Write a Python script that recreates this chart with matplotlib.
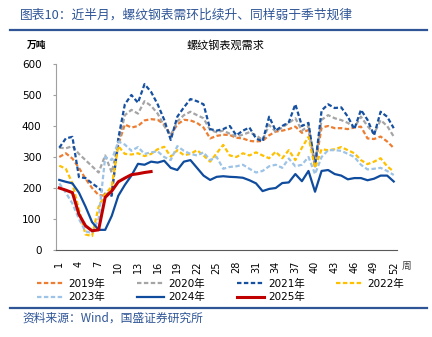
import numpy as np
import matplotlib
matplotlib.use("Agg")
import matplotlib.pyplot as plt
from matplotlib.lines import Line2D

plt.rcParams["font.family"] = ["DejaVu Sans", "Noto Sans CJK SC"]

# 周度螺纹钢表观需求（万吨），读图估计
weeks = np.arange(1, 53)
y2019 = [300, 312, 295, 265, 230, 200, 177, 175, 195, 340, 405, 395, 400, 418, 422, 420, 405, 370,
         405, 420, 418, 410, 395, 360, 368, 372, 371, 362, 360, 352, 350, 352, 370, 382, 385, 390,
         398, 378, 387, 270, 395, 400, 393, 393, 390, 395, 398, 360, 358, 366, 350, 329]
y2020 = [330, 328, 335, 310, 290, 270, 250, 305, 250, 345, 435, 452, 440, 480, 465, 440, 400, 370,
         415, 435, 446, 435, 425, 387, 380, 385, 375, 366, 372, 380, 370, 355, 403, 382, 395, 410,
         425, 385, 400, 280, 420, 435, 425, 419, 410, 395, 430, 400, 375, 419, 400, 366]
y2021 = [330, 360, 365, 235, 232, 215, 200, 180, 175, 360, 470, 500, 475, 535, 510, 470, 420, 355,
         430, 460, 487, 480, 470, 390, 385, 390, 400, 370, 385, 395, 360, 350, 430, 385, 400, 412,
         470, 400, 410, 270, 450, 470, 458, 460, 430, 390, 452, 420, 370, 446, 430, 393]
y2022 = [272, 262, 215, 130, 50, 45, 140, 180, 205, 335, 310, 308, 312, 303, 310, 325, 333, 301,
         322, 306, 310, 322, 305, 285, 312, 339, 305, 300, 312, 305, 315, 305, 296, 317, 296, 322,
         290, 330, 365, 265, 325, 322, 325, 332, 322, 312, 290, 277, 285, 296, 270, 253]
y2023 = [215, 185, 150, 100, 60, 55, 100, 300, 290, 350, 340, 320, 332, 310, 315, 318, 300, 290,
         335, 320, 310, 305, 315, 290, 300, 262, 268, 270, 275, 262, 250, 255, 270, 275, 265, 295,
         270, 275, 300, 245, 300, 322, 322, 320, 310, 300, 275, 260, 262, 265, 255, 242]
y2024 = [226, 220, 215, 185, 140, 90, 65, 65, 110, 175, 210, 240, 278, 275, 285, 282, 288, 265,
         258, 285, 290, 265, 240, 226, 236, 238, 236, 235, 233, 225, 215, 190, 197, 200, 216, 218,
         245, 222, 255, 188, 255, 258, 245, 240, 228, 232, 232, 225, 230, 240, 240, 221]
y2025 = [200, 193, 185, 115, 78, 62, 65, 170, 190, 220, 232, 243, 246, 250, 253]

series = [
    ("2019年", y2019, "#ED7D31", "--"),
    ("2020年", y2020, "#A5A5A5", "--"),
    ("2021年", y2021, "#1650A0", "--"),
    ("2022年", y2022, "#FFC000", "--"),
    ("2023年", y2023, "#9DC3E6", "--"),
    ("2024年", y2024, "#0F4C9E", "-"),
    ("2025年", y2025, "#C00000", "-"),
]
xticks = list(range(1, 53, 3))
yticks = [0, 100, 200, 300, 400, 500, 600]

fig = plt.figure(figsize=(4.32, 3.37), dpi=100)
ax = fig.add_axes([56 / 432, 1 - 250 / 337, 341 / 432, 186 / 337])

handles = {}
for name, vals, color, ls in series:
    x = weeks[:len(vals)]
    if ls == "--":
        line, = ax.plot(x, vals, color=color, lw=1.6, dashes=(2.0, 1.1))
    else:
        lw = 2.2 if name == "2025年" else 1.6
        line, = ax.plot(x, vals, color=color, lw=lw)
    handles[name] = line

ax.set_xlim(0.5, 52.5)
ax.set_ylim(0, 600)
ax.set_xticks(xticks)
ax.set_xticklabels([str(t) for t in xticks], rotation=90, fontsize=7)
ax.set_yticks(yticks)
ax.set_yticklabels([str(t) for t in yticks], fontsize=7.5)
ax.tick_params(axis="x", length=0, pad=8)
ax.tick_params(axis="y", length=2.5, width=0.8, color="#A0A0A0", pad=8)
for s in ["top", "right"]:
    ax.spines[s].set_visible(False)
ax.spines["left"].set_color("#A0A0A0")
ax.spines["bottom"].set_color("#595959")

# 标题与单位
fig.text(20 / 432, 1 - 15 / 337, "图表10：近半月，螺纹钢表需环比续升、同样弱于季节规律",
         fontsize=9.2, color="#2F5597", style="italic", va="center", ha="left",
         family=["Noto Sans CJK SC", "DejaVu Sans"])
fig.add_artist(Line2D([10 / 432, 427 / 432], [1 - 30 / 337, 1 - 30 / 337], color="#2F5597", lw=1.6))
fig.text(27 / 432, 1 - 45 / 337, "万吨", fontsize=7, fontweight="bold", va="center", ha="left",
         family=["Noto Sans CJK SC"])
fig.text(225 / 432, 1 - 45 / 337, "螺纹钢表观需求", fontsize=8, va="center", ha="center",
         family=["Noto Sans CJK SC"])
fig.text(402 / 432, 1 - 266 / 337, "周", fontsize=7, va="center", ha="left", color="#404040",
         family=["Noto Sans CJK SC"])

order = ["2019年", "2023年", "2020年", "2024年", "2021年", "2025年", "2022年"]
fig.legend([handles[k] for k in order], order, ncol=4, frameon=False,
           loc="upper left", bbox_to_anchor=(37 / 432, 1 - 279 / 337),
           fontsize=7.5, handlelength=2.6, handletextpad=0.4, columnspacing=3.05,
           labelspacing=0.3, borderpad=0, borderaxespad=0)

fig.add_artist(Line2D([10 / 432, 427 / 432], [1 - 308 / 337, 1 - 308 / 337], color="#2F5597", lw=1.6))
fig.text(22 / 432, 1 - 318 / 337, "资料来源：Wind，国盛证券研究所", fontsize=8.5, color="#2F5597",
         style="italic", va="center", ha="left", family=["Noto Sans CJK SC", "DejaVu Sans"])

fig.savefig("out.png", dpi=100)
